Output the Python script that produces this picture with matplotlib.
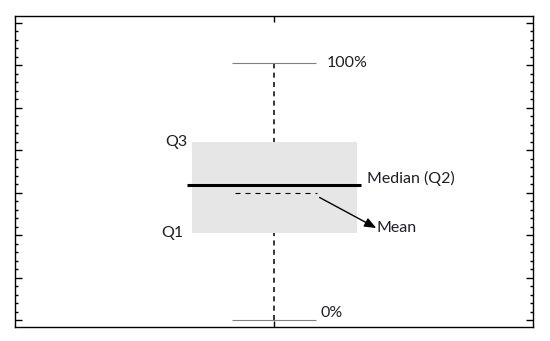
import matplotlib
matplotlib.use("Agg")
import matplotlib.pyplot as plt
from matplotlib.ticker import MultipleLocator

# box plot summary values
p_min = 0.0
q1 = 2.05
median = 3.18
mean = 2.99
q3 = 4.19
p_max = 6.05

labels = ["0%", "Q1", "Median (Q2)", "Mean", "Q3", "100%"]

plt.rcParams['font.family'] = ['Lato', 'DejaVu Sans']

fig = plt.figure(figsize=(5.5, 3.41), dpi=100)
ax = fig.add_axes([15/550, 1 - 327/341, 518/550, (327 - 15.7)/341])

xc = 1.0
txt = "#1e1e28"

# whisker
ax.vlines(xc, p_min, p_max, color="black", lw=1.1,
          linestyles=(0, (3.3, 2.8)), zorder=1)
# caps
ax.hlines([p_min, p_max], xc - 0.162, xc + 0.162, color="#808080", lw=0.8, zorder=2)
# box
ax.fill_between([xc - 0.318, xc + 0.319], q1, q3, color="#e6e6e6", lw=0, zorder=2)
# median
ax.hlines(median, xc - 0.336, xc + 0.336, color="black", lw=2.2, zorder=3)
# mean
ax.hlines(mean, xc - 0.151, xc + 0.166, color="black", lw=0.8,
          linestyles=(0, (4.5, 4.5)), zorder=3)
ax.annotate("", xy=(xc + 0.395, 2.17), xytext=(xc + 0.176, mean - 0.1),
            arrowprops=dict(arrowstyle="-|>,head_length=0.7,head_width=0.28",
                            color="black", lw=1.0, shrinkA=0, shrinkB=0),
            zorder=4)

fs = 11.5
ax.text(xc + 0.178, p_min + 0.17, labels[0], fontsize=fs, color=txt, va="center", ha="left")
ax.text(xc - 0.35, q1, labels[1], fontsize=fs, color=txt, va="center", ha="right")
ax.text(xc + 0.36, median + 0.15, labels[2], fontsize=fs, color=txt, va="center", ha="left")
ax.text(xc + 0.394, 2.17, labels[3], fontsize=fs, color=txt, va="center", ha="left")
ax.text(xc - 0.336, q3 + 0.01, labels[4], fontsize=fs, color=txt, va="center", ha="right")
ax.text(xc + 0.203, p_max, labels[5], fontsize=fs, color=txt, va="center", ha="left")

ax.set_xlim(0, 2)
ax.set_ylim(-0.16, 7.17)
ax.set_xticks([xc])
ax.yaxis.set_major_locator(MultipleLocator(1))
ax.yaxis.set_minor_locator(MultipleLocator(0.2))
ax.tick_params(axis="y", which="both", direction="in", left=True, right=True,
               labelleft=False, width=1.0)
ax.tick_params(axis="y", which="major", length=5)
ax.tick_params(axis="y", which="minor", length=2.5)
ax.tick_params(axis="x", which="both", direction="in", top=True, bottom=True,
               labelbottom=False, length=4, width=1.0)
for s in ax.spines.values():
    s.set_linewidth(1.0)

fig.savefig("out.png", dpi=100)
